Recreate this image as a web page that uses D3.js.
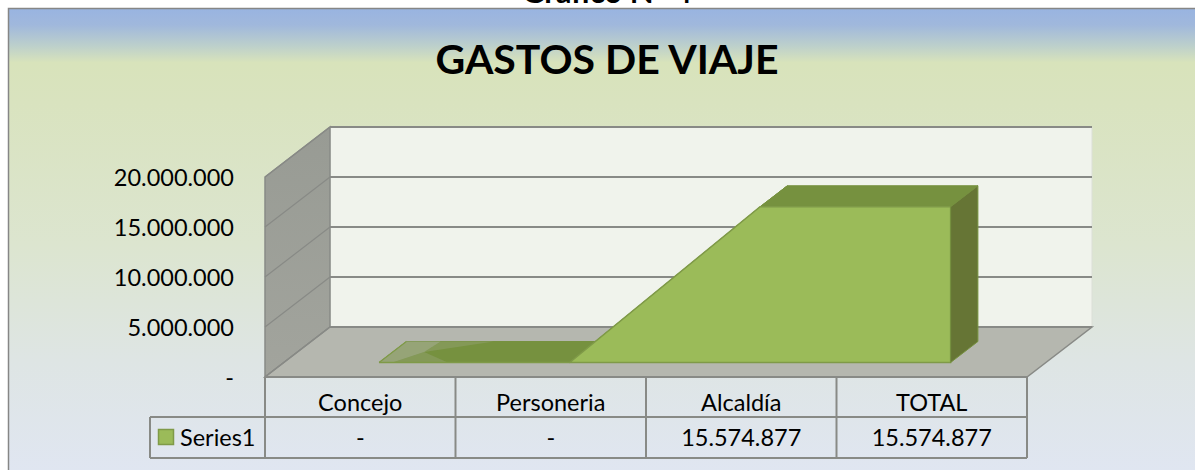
<!DOCTYPE html>
<html>
<head>
<meta charset="utf-8">
<script src="https://cdn.jsdelivr.net/npm/d3@7"></script>
<style>
  html, body { margin: 0; padding: 0; background: #fff; overflow: hidden; }
  text { font-family: Lato, "Open Sans", sans-serif; fill: #000; }
</style>
</head>
<body>
<div id="chart"></div>
<script>
const categories = ['Concejo', 'Personeria', 'Alcaldía', 'TOTAL']
const values = [0, 0, 15574877, 15574877]
const yTicks = [0, 5000000, 10000000, 15000000, 20000000]
const seriesName = 'Series1'
const chartTitle = 'GASTOS DE VIAJE'
const outerTitle = 'Gráfico N° 4'

const width = 1195
const height = 470
const gridColor = '#888a86'

const svg = d3.select('#chart')
              .append('svg')
              .attr('width', width)
              .attr('height', height)
              .style('display', 'block')

// background of the chart area
const defs = svg.append('defs')
const bg = defs.append('linearGradient')
               .attr('id', 'bg')
               .attr('x1', 0).attr('y1', 0).attr('x2', 0).attr('y2', 1)
bg.selectAll('stop')
  .data([[0, '#99b4e1'], [0.035, '#a0b8dc'], [0.08, '#bdd0cb'], [0.115, '#d8e3bb'], [0.2, '#d9e3bf'], [0.5, '#dce5cf'], [0.75, '#dee5e4'], [1, '#e0e6f2']])
  .enter()
  .append('stop')
  .attr('offset', d => d[0])
  .attr('stop-color', d => d[1])

const wallGrad = defs.append('linearGradient')
               .attr('id', 'wall')
               .attr('x1', 0).attr('y1', 0).attr('x2', 0).attr('y2', 1)
wallGrad.append('stop').attr('offset', 0).attr('stop-color', '#989b94')
wallGrad.append('stop').attr('offset', 1).attr('stop-color', '#a2a49d')

svg.append('text')
   .attr('x', 607)
   .attr('y', 3)
   .attr('text-anchor', 'middle')
   .style('font-size', '31px')
   .style('font-weight', 'bold')
   .text(outerTitle)

svg.append('rect')
   .attr('x', 8.5)
   .attr('y', 8.5)
   .attr('width', width)
   .attr('height', height)
   .attr('fill', 'url(#bg)')
   .attr('stroke', '#868686')
   .attr('stroke-width', 1.5)

svg.append('text')
   .attr('x', 607)
   .attr('y', 74)
   .attr('text-anchor', 'middle')
   .style('font-size', '41px')
   .style('font-weight', 'bold')
   .text(chartTitle)

// scales, depth is the shift of the back wall against the front of the floor
const left = 265
const right = 1027
const depthX = 65
const depthY = -50
const x = d3.scalePoint().domain(categories).range([left, right]).padding(0.5)
const y = d3.scaleLinear().domain([0, 20000000]).range([377, 177])
const step = x.step()

const poly = pts => d3.line()(pts) + 'Z'
const project = (px, v, depth) => [px + depthX * depth, y(v) + depthY * depth]

const maxV = y.domain()[1]

// back wall
svg.append('path')
   .attr('d', poly([project(left, 0, 1), project(right, 0, 1), project(right, maxV, 1), project(left, maxV, 1)]))
   .attr('fill', '#f0f3ec')
   .attr('stroke', '#dcdfd8')
   .attr('stroke-width', 1)
// left wall
svg.append('path')
   .attr('d', poly([project(left, 0, 0), project(left, 0, 1), project(left, maxV, 1), project(left, maxV, 0)]))
   .attr('fill', 'url(#wall)')
   .attr('stroke', gridColor)
   .attr('stroke-width', 1.5)
// floor
svg.append('path')
   .attr('d', poly([project(left, 0, 0), project(right, 0, 0), project(right, 0, 1), project(left, 0, 1)]))
   .attr('fill', '#b5b7af')
   .attr('stroke', gridColor)
   .attr('stroke-width', 1.5)

// gridlines on both walls
svg.selectAll('.gridSide')
   .data(yTicks)
   .enter()
   .append('path')
   .attr('class', 'gridSide')
   .attr('d', d => d3.line()([project(left, d, 0), project(left, d, 1)]))
   .attr('fill', 'none')
   .attr('stroke', gridColor)
   .attr('stroke-width', 1.2)

svg.selectAll('.gridBack')
   .data(yTicks)
   .enter()
   .append('path')
   .attr('class', 'gridBack')
   .attr('d', d => d3.line()([project(left, d, 1), project(right, d, 1)]))
   .attr('fill', 'none')
   .attr('stroke', gridColor)
   .attr('stroke-width', 2)

// value axis, only the labels show
const numFmt = d3.formatLocale({ decimal: ',', thousands: '.', grouping: [3], currency: ['$', ''] }).format(',d')
const label = v => v === 0 ? '-' : numFmt(v)

const yAxis = svg.append('g')
   .attr('transform', `translate(${left},1)`)
   .call(d3.axisLeft(y).tickValues(yTicks).tickFormat(label).tickSize(0).tickPadding(31))
yAxis.select('.domain').remove()
yAxis.selectAll('text')
   .style('font-size', '23.5px')
   .style('fill', '#000')
   .attr('dy', '0.32em')

// the 3D area, front and back of the ribbon
const d0 = 0.29
const d1 = 0.71
const series = categories.map((c, i) => ({ c, v: values[i] }))

const topFaces = d3.pairs(series)
svg.selectAll('.top')
   .data(topFaces)
   .enter()
   .append('path')
   .attr('class', 'top')
   .attr('d', ([a, b]) => poly([
     project(x(a.c), a.v, d0), project(x(b.c), b.v, d0),
     project(x(b.c), b.v, d1), project(x(a.c), a.v, d1)
   ]))
   .attr('fill', '#76913f')
   .attr('stroke', '#76913f')
   .attr('stroke-width', 1)

// light patches the end of the flat ribbon shows in the original
const first = x(categories[0])
const inner = project(first + step * 0.165, 0, 0.5)
const patches = [
  { o: 0.5, pts: [project(first, 0, d0), project(first, 0, d1), project(first + step * 0.18, 0, d1), inner, project(first + step * 0.07, 0, d0)] },
  { o: 0.22, pts: [project(first + step * 0.07, 0, d0), inner, project(first + step * 0.36, 0, d0)] },
  { o: 0.22, pts: [project(first + step * 0.18, 0, d1), project(first + step * 0.46, 0, d1), inner] }
]
svg.selectAll('.patch')
   .data(patches)
   .enter()
   .append('path')
   .attr('class', 'patch')
   .attr('d', d => poly(d.pts))
   .attr('fill', '#b5b7af')
   .attr('opacity', d => d.o)

svg.append('path')
   .attr('d', d3.line()([project(first, 0, d0), project(first, 0, d1)]))
   .attr('stroke', '#7f9a48')
   .attr('stroke-width', 1.2)

const front = d3.area()
   .x(d => x(d.c) + depthX * d0)
   .y0(y(0) + depthY * d0)
   .y1(d => y(d.v) + depthY * d0)

svg.append('path')
   .datum(series)
   .attr('d', front)
   .attr('fill', '#9bbb59')
   .attr('stroke', '#7f9a48')
   .attr('stroke-width', 1.5)

const last = series[series.length - 1]
svg.append('path')
   .attr('d', poly([
     project(x(last.c), 0, d0), project(x(last.c), 0, d1),
     project(x(last.c), last.v, d1), project(x(last.c), last.v, d0)
   ]))
   .attr('fill', '#667535')
   .attr('stroke', '#76913f')
   .attr('stroke-width', 1)

// data table under the floor
const tableLeft = 150
const rowTop = y(0)
const rowMid = 417
const rowBottom = 458
const tableLines = svg.append('g')
   .attr('stroke', gridColor)
   .attr('stroke-width', 2)
tableLines.append('line').attr('x1', left).attr('x2', right).attr('y1', rowTop).attr('y2', rowTop)
tableLines.selectAll('.h')
   .data([rowMid, rowBottom])
   .enter()
   .append('line')
   .attr('class', 'h')
   .attr('x1', tableLeft).attr('x2', right)
   .attr('y1', d => d).attr('y2', d => d)
tableLines.selectAll('.v')
   .data(categories.map(c => x(c) - step / 2).concat(right))
   .enter()
   .append('line')
   .attr('class', 'v')
   .attr('x1', d => d).attr('x2', d => d)
   .attr('y1', rowTop).attr('y2', rowBottom)
tableLines.append('line')
   .attr('x1', tableLeft).attr('x2', tableLeft)
   .attr('y1', rowMid).attr('y2', rowBottom)

svg.selectAll('.cat')
   .data(categories)
   .enter()
   .append('text')
   .attr('class', 'cat')
   .attr('x', d => x(d))
   .attr('y', 411)
   .attr('text-anchor', 'middle')
   .style('font-size', '23.5px')
   .text(d => d)

svg.selectAll('.val')
   .data(series)
   .enter()
   .append('text')
   .attr('class', 'val')
   .attr('x', d => x(d.c))
   .attr('y', 446)
   .attr('text-anchor', 'middle')
   .style('font-size', '23.5px')
   .text(d => label(d.v))

svg.append('rect')
   .attr('x', 158.5)
   .attr('y', 429.5)
   .attr('width', 15)
   .attr('height', 15)
   .attr('fill', '#9bbb59')
   .attr('stroke', '#7f9a48')
   .attr('stroke-width', 1.5)

svg.append('text')
   .attr('x', 180)
   .attr('y', 446)
   .style('font-size', '23.5px')
   .text(seriesName)
</script>
</body>
</html>
